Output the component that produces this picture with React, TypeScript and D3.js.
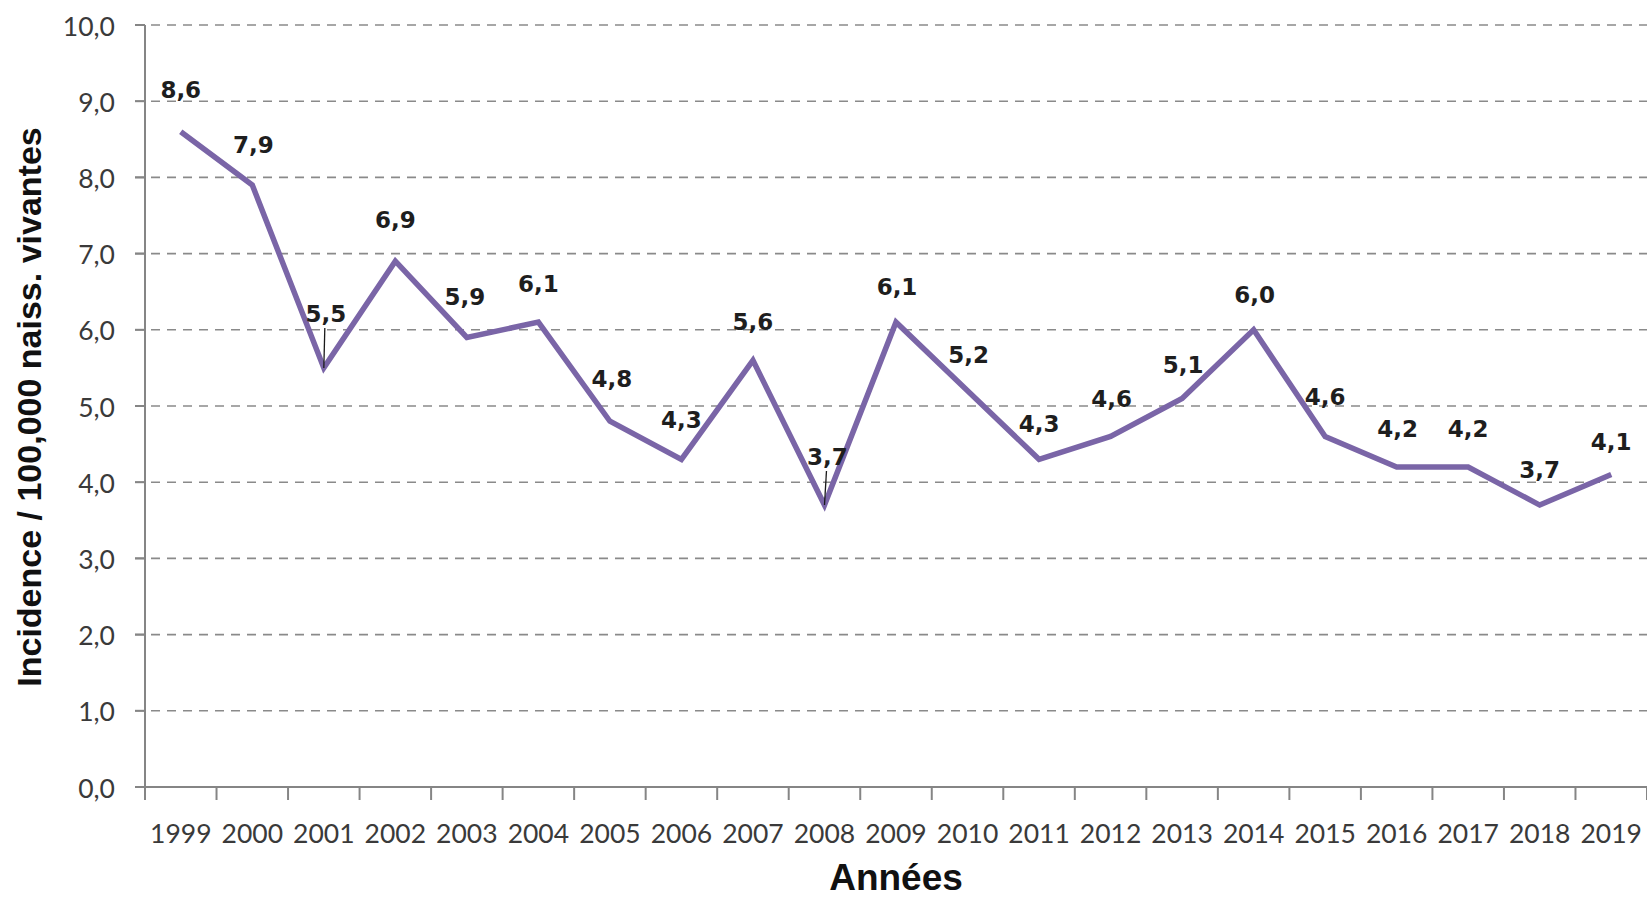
import React from "react";
import * as d3 from "d3";

// Incidence per 100,000 live births, by year
const years: string[] = [
  "1999", "2000", "2001", "2002", "2003", "2004", "2005", "2006", "2007", "2008",
  "2009", "2010", "2011", "2012", "2013", "2014", "2015", "2016", "2017", "2018", "2019",
];
const incidence: number[] = [
  8.6, 7.9, 5.5, 6.9, 5.9, 6.1, 4.8, 4.3, 5.6, 3.7,
  6.1, 5.2, 4.3, 4.6, 5.1, 6.0, 4.6, 4.2, 4.2, 3.7, 4.1,
];
const yTickValues: number[] = [0, 1, 2, 3, 4, 5, 6, 7, 8, 9, 10];

// Hand-placed data label offsets [dx, dy to baseline], and which labels carry a leader line
const labelOffsets: [number, number][] = [
  [0, -34], [1, -32], [2, -46], [0, -33], [-2, -32], [0, -30], [2, -34], [0, -31], [0, -30], [3, -40],
  [1, -27], [1, -28], [0, -27], [1, -29], [1, -25], [1, -27], [0, -31], [1, -30], [0, -30], [0, -27], [0, -25],
];
const leaderLines: boolean[] = years.map((y) => y === "2001" || y === "2008");

const W = 1647;
const H = 900;
const left = 145;
const right = 1647;
const top = 25;
const bottom = 787;

const frLocale = d3.formatLocale({ decimal: ",", thousands: ".", grouping: [3], currency: ["", " €"] });
const fmt = frLocale.format(".1f");

export default function App() {
  const x = d3.scaleBand<string>().domain(years).range([left, right]).padding(0);
  const y = d3.scaleLinear().domain([0, 10]).range([bottom, top]);
  const cx = (yr: string) => (x(yr) as number) + x.bandwidth() / 2;

  const line = d3
    .line<number>()
    .x((_, i) => cx(years[i]))
    .y((v) => y(v));

  const boundaries = years.map((yr) => x(yr) as number).concat([right]);

  const tickFont = "Lato, 'Open Sans', sans-serif";
  const labelFont = "'DejaVu Sans', Verdana, sans-serif";
  const titleFont = "'Liberation Sans', Arial, sans-serif";

  return (
    <svg
      width={W}
      height={H}
      viewBox={`0 0 ${W} ${H}`}
      style={{ position: "absolute", left: 0, top: 0, background: "#ffffff" }}
    >
      <rect x={0} y={0} width={W} height={H} fill="#ffffff" />

      {/* horizontal dashed gridlines */}
      {yTickValues
        .filter((v) => v > 0)
        .map((v) => (
          <line
            key={`g${v}`}
            x1={left - 10}
            x2={right}
            y1={y(v)}
            y2={y(v)}
            stroke="#8a8a8a"
            strokeWidth={1.6}
            strokeDasharray="9 7"
          />
        ))}

      {/* y axis */}
      <line x1={left} x2={left} y1={top} y2={bottom} stroke="#858585" strokeWidth={2} />
      {yTickValues.map((v) => (
        <g key={`yt${v}`}>
          <line x1={left - 10} x2={left} y1={y(v)} y2={y(v)} stroke="#858585" strokeWidth={2} />
          <text
            x={left - 30}
            y={y(v)}
            dy="0.4em"
            textAnchor="end"
            fontFamily={tickFont}
            fontSize={26.5}
            fill="#3a3a3a"
          >
            {fmt(v)}
          </text>
        </g>
      ))}

      {/* x axis */}
      <line x1={left - 10} x2={right} y1={bottom} y2={bottom} stroke="#858585" strokeWidth={2} />
      {boundaries.map((bx, i) => (
        <line key={`xt${i}`} x1={bx} x2={bx} y1={bottom} y2={bottom + 13} stroke="#858585" strokeWidth={2} />
      ))}
      {years.map((yr) => (
        <text
          key={`xl${yr}`}
          x={cx(yr)}
          y={843}
          textAnchor="middle"
          fontFamily={tickFont}
          fontSize={26.5}
          fill="#3a3a3a"
        >
          {yr}
        </text>
      ))}

      {/* series line */}
      <path
        d={line(incidence) || ""}
        fill="none"
        stroke="#7a65a7"
        strokeWidth={5.5}
        strokeLinejoin="miter"
        strokeLinecap="butt"
      />

      {/* leader lines */}
      {incidence.map((v, i) =>
        leaderLines[i] ? (
          <line
            key={`ll${i}`}
            x1={cx(years[i]) + labelOffsets[i][0] - 1}
            x2={cx(years[i])}
            y1={y(v) + labelOffsets[i][1] + 6}
            y2={y(v)}
            stroke="#1a1a1a"
            strokeWidth={1.3}
          />
        ) : null
      )}

      {/* data labels */}
      {incidence.map((v, i) => (
        <text
          key={`dl${i}`}
          x={cx(years[i]) + labelOffsets[i][0]}
          y={y(v) + labelOffsets[i][1]}
          textAnchor="middle"
          fontFamily={labelFont}
          fontWeight="bold"
          fontSize={23}
          fill="#1e1e1e"
        >
          {fmt(v)}
        </text>
      ))}

      {/* axis titles */}
      <text
        transform={`translate(41, 407) rotate(-90)`}
        textAnchor="middle"
        fontFamily={titleFont}
        fontWeight="bold"
        fontSize={34}
        fill="#111111"
      >
        Incidence / 100,000 naiss. vivantes
      </text>
      <text
        x={(left + right) / 2}
        y={890}
        textAnchor="middle"
        fontFamily={titleFont}
        fontWeight="bold"
        fontSize={37}
        fill="#111111"
      >
        Années
      </text>
    </svg>
  );
}
